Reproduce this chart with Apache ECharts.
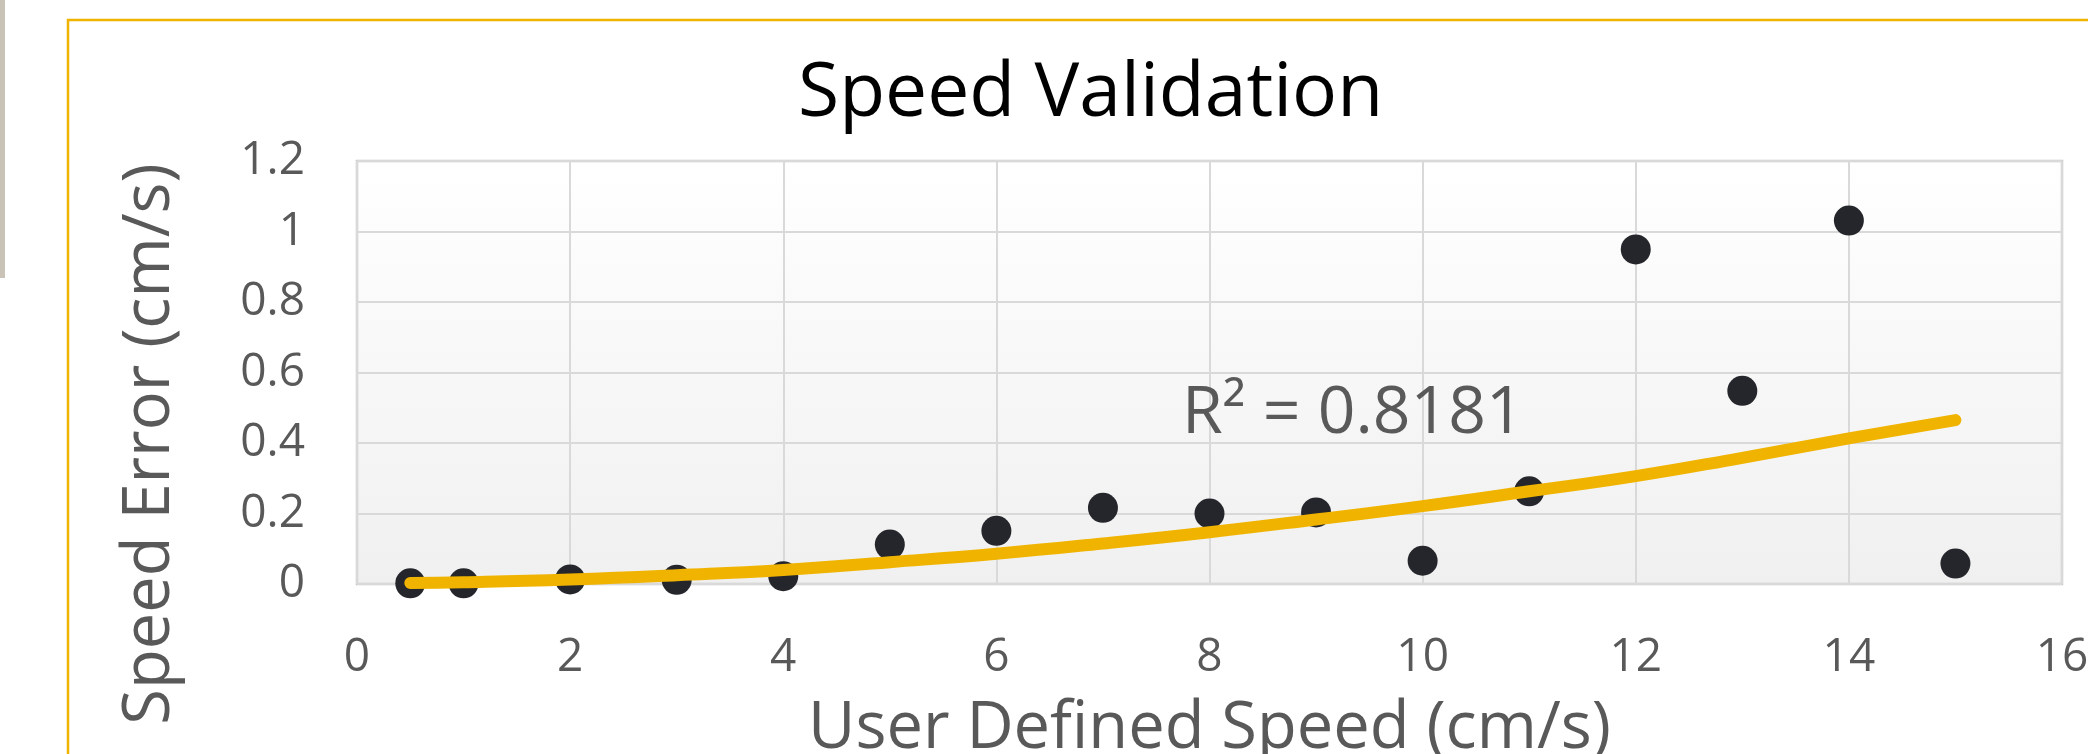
<!DOCTYPE html>
<html>
<head>
<meta charset="utf-8">
<title>Speed Validation</title>
<script src="https://cdn.jsdelivr.net/npm/echarts@6/dist/echarts.min.js"></script>
<style>
  html, body { margin: 0; padding: 0; background: #ffffff; }
  #chart { width: 2088px; height: 754px; }
</style>
</head>
<body>
<div id="chart"></div>
<script>
// measured points (user defined speed vs speed error)
var speedX = [0.5, 1, 2, 3, 4, 5, 6, 7, 8, 9, 10, 11, 12, 13, 14, 15];
var errorY = [0.002, 0.002, 0.013, 0.012, 0.022, 0.112, 0.151, 0.216, 0.2, 0.203, 0.066, 0.263, 0.949, 0.548, 1.031, 0.058];

// trendline
var trendX = [0.5, 1, 2, 3, 4, 5, 6, 7, 8, 9, 10, 11, 12, 13, 14, 15];
var trendY = [0.003, 0.005, 0.013, 0.025, 0.04, 0.062, 0.086, 0.115, 0.147, 0.183, 0.221, 0.263, 0.306, 0.358, 0.413, 0.465];

var xTicks = { min: 0, max: 16, interval: 2 };
var yTicks = { min: 0, max: 1.2, interval: 0.2 };
var rSquared = "R\u00B2 = 0.8181";

var FONT = "'Open Sans', 'Noto Sans', sans-serif";
var GREY = "#595959";

function pairs(xs, ys) {
  return xs.map(function(x, i) {
    return [x, ys[i]];
  });
}

var chart = echarts.init(document.getElementById("chart"));

chart.setOption({
  animation: false,
  backgroundColor: "#ffffff",
  title: {
    text: "Speed Validation",
    left: 793,
    top: 52,
    textStyle: {
      fontFamily: FONT,
      fontSize: 75,
      fontWeight: "normal",
      color: "#000000"
    }
  },
  grid: {
    left: 357,
    right: 26,
    top: 161,
    bottom: 170,
    outerBoundsMode: "none",
    containLabel: false,
    show: true,
    borderColor: "#c8c8c8",
    borderWidth: 2.5,
    backgroundColor: new echarts.graphic.LinearGradient(0, 0, 0, 1, [
      { offset: 0, color: "#ffffff" },
      { offset: 1, color: "#f0f0f0" }
    ])
  },
  xAxis: {
    type: "value",
    min: xTicks.min,
    max: xTicks.max,
    interval: xTicks.interval,
    name: "User Defined Speed (cm/s)",
    nameLocation: "middle",
    nameGap: 113,
    nameTextStyle: {
      fontFamily: FONT,
      fontSize: 65,
      color: GREY
    },
    axisLine: { show: false },
    axisTick: { show: false },
    axisLabel: {
      margin: 51,
      fontFamily: FONT,
      fontSize: 46,
      color: GREY
    },
    splitLine: {
      lineStyle: { color: "#d9d9d9", width: 2 }
    }
  },
  yAxis: {
    type: "value",
    min: yTicks.min,
    max: yTicks.max,
    interval: yTicks.interval,
    axisLine: { show: false },
    axisTick: { show: false },
    axisLabel: {
      margin: 52,
      fontFamily: FONT,
      fontSize: 46,
      color: GREY
    },
    splitLine: {
      lineStyle: { color: "#d9d9d9", width: 2 }
    }
  },
  graphic: [
    {
      type: "rect",
      left: 0,
      top: 0,
      shape: { width: 5, height: 278 },
      style: { fill: "#c8c3b6" }
    },
    {
      type: "rect",
      shape: { x: 68, y: 20, width: 2100, height: 800 },
      style: { fill: "none", stroke: "#f0b400", lineWidth: 2.5 },
      silent: true
    },
    {
      type: "text",
      x: 150,
      y: 444,
      rotation: Math.PI / 2,
      style: {
        text: "Speed Error (cm/s)",
        fontFamily: FONT,
        fontSize: 65,
        fill: GREY,
        align: "center",
        verticalAlign: "middle"
      }
    },
    {
      type: "text",
      x: 1182,
      y: 381,
      z: 10,
      style: {
        text: rSquared,
        fontFamily: FONT,
        fontSize: 66,
        fill: GREY,
        align: "left",
        verticalAlign: "top"
      }
    }
  ],
  series: [
    {
      name: "Speed Error",
      type: "scatter",
      data: pairs(speedX, errorY),
      symbol: "circle",
      symbolSize: 30,
      itemStyle: { color: "#25262b", opacity: 1 },
      z: 2
    },
    {
      name: "Trend",
      type: "line",
      data: pairs(trendX, trendY),
      smooth: true,
      showSymbol: false,
      symbol: "none",
      lineStyle: {
        color: "#f0b400",
        width: 12,
        cap: "round"
      },
      z: 3
    }
  ]
});
</script>
</body>
</html>
